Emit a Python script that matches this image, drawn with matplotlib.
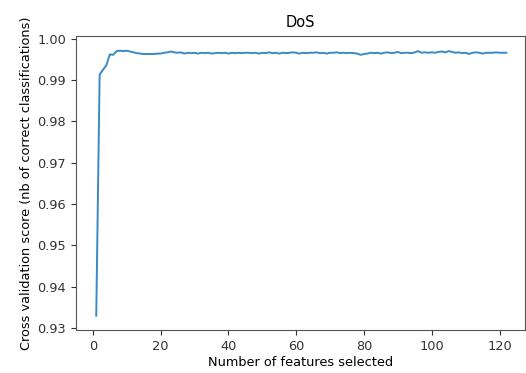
import matplotlib
matplotlib.use('Agg')
import matplotlib.pyplot as plt

# number of features selected (1..122)
n_features = list(range(1, 123))

# cross validation score for each number of features
scores = [
    0.9330, 0.9913, 0.9925, 0.9936, 0.9962, 0.9961, 0.9970, 0.9971, 0.9970, 0.9971,
    0.9969, 0.9967, 0.9965, 0.9964, 0.9963, 0.9963, 0.9963, 0.9963, 0.9964, 0.9964,
    0.9966, 0.9967, 0.9969, 0.9967, 0.9966, 0.9967, 0.9964, 0.9966, 0.9965, 0.9966,
    0.9964, 0.9966, 0.9965, 0.9966, 0.9964, 0.9965, 0.9966, 0.9965, 0.9966, 0.9964,
    0.9966, 0.9965, 0.9966, 0.9965, 0.9966, 0.9966, 0.9965, 0.9966, 0.9964, 0.9966,
    0.9965, 0.9967, 0.9965, 0.9966, 0.9964, 0.9966, 0.9965, 0.9966, 0.9967, 0.9966,
    0.9964, 0.9966, 0.9965, 0.9966, 0.9966, 0.9967, 0.9965, 0.9966, 0.9964, 0.9966,
    0.9966, 0.9967, 0.9965, 0.9966, 0.9965, 0.9966, 0.9965, 0.9964, 0.9961, 0.9963,
    0.9964, 0.9966, 0.9965, 0.9966, 0.9964, 0.9966, 0.9967, 0.9965, 0.9966, 0.9968,
    0.9965, 0.9966, 0.9966, 0.9965, 0.9967, 0.9970, 0.9966, 0.9967, 0.9966, 0.9967,
    0.9966, 0.9968, 0.9969, 0.9967, 0.9970, 0.9968, 0.9966, 0.9967, 0.9965, 0.9966,
    0.9963, 0.9966, 0.9967, 0.9966, 0.9964, 0.9966, 0.9966, 0.9966, 0.9967, 0.9966,
    0.9966, 0.9966,
]

plt.rcParams['font.size'] = 9.3

fig = plt.figure(figsize=(5.26, 3.73), dpi=100)
ax = fig.add_axes([0.144, 0.115, 0.854, 0.789])

ax.plot(n_features, scores, color='#3a8ac4', linewidth=1.4)
ax.set_title('DoS', fontsize=10.5)
ax.set_xlabel('Number of features selected', labelpad=2)
ax.set_ylabel('Cross validation score (nb of correct classifications)', labelpad=3)
ax.set_xlim(-5.05, 127.5)
ax.set_ylim(0.9295, 1.0007)
ax.set_yticks([0.93, 0.94, 0.95, 0.96, 0.97, 0.98, 0.99, 1.00])
for s in ax.spines.values():
    s.set_color('#555555')
ax.tick_params(colors='#333333')

fig.savefig('out.png', dpi=100)
